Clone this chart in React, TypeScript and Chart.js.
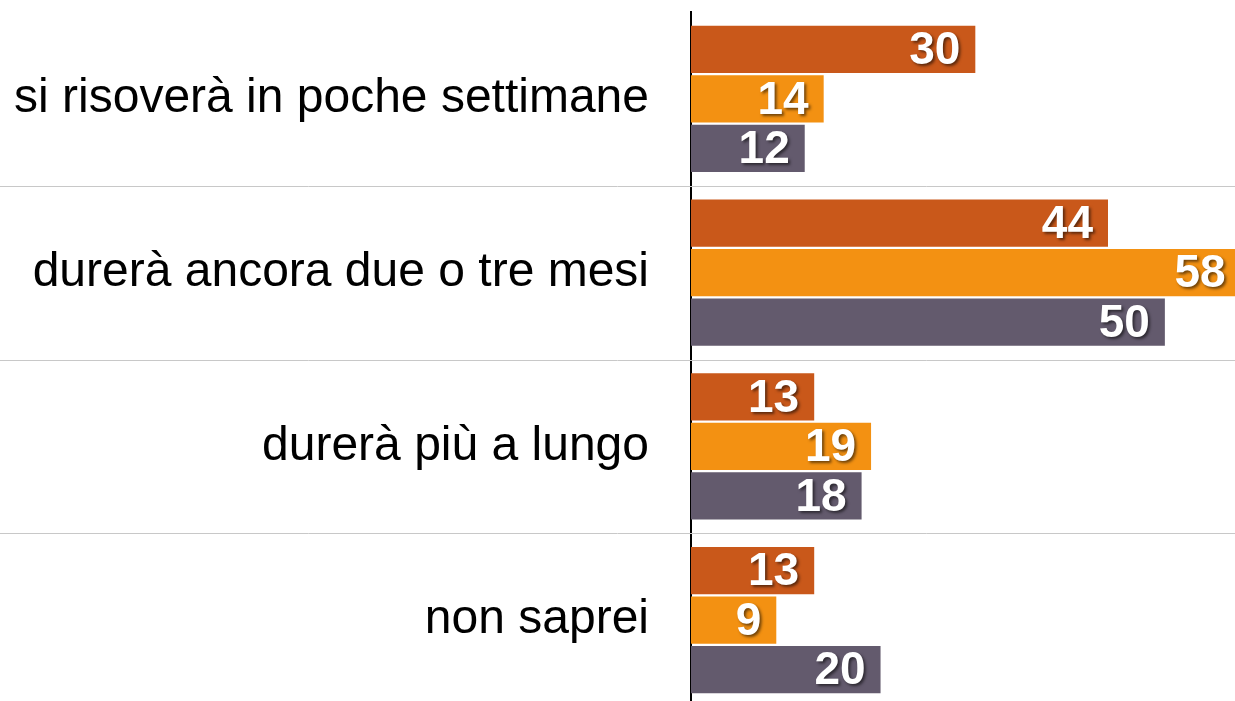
import React, { useEffect, useRef } from "react";
import { Chart, registerables } from "chart.js";

Chart.register(...registerables);

const categories = [
  "si risoverà in poche settimane",
  "durerà ancora due o tre mesi",
  "durerà più a lungo",
  "non saprei",
];
const series1 = [30, 44, 13, 13];
const series2 = [14, 58, 19, 9];
const series3 = [12, 50, 18, 20];
const seriesNames = ["Serie 1", "Serie 2", "Serie 3"];
const seriesColors = ["#C9581A", "#F39112", "#635A6D"];

const FONT = "'Liberation Sans', Arial, sans-serif";

const separatorPlugin = {
  id: "separators",
  beforeDatasetsDraw(chart: any) {
    const { ctx } = chart;
    const y = chart.scales.y;
    ctx.save();
    ctx.strokeStyle = "#C8C8C8";
    ctx.lineWidth = 1;
    for (let i = 1; i < categories.length; i++) {
      const py = Math.round((y.getPixelForTick(i - 1) + y.getPixelForTick(i)) / 2) + 0.5;
      ctx.beginPath();
      ctx.moveTo(0, py);
      ctx.lineTo(chart.width, py);
      ctx.stroke();
    }
    ctx.restore();
  },
};

const valueLabelPlugin = {
  id: "valueLabels",
  afterDatasetsDraw(chart: any) {
    const { ctx } = chart;
    ctx.save();
    ctx.font = `bold 46px ${FONT}`;
    ctx.fillStyle = "#FFFFFF";
    ctx.textAlign = "right";
    ctx.textBaseline = "middle";
    ctx.shadowColor = "rgba(0,0,0,0.55)";
    ctx.shadowOffsetX = 2;
    ctx.shadowOffsetY = 2;
    ctx.shadowBlur = 3;
    chart.data.datasets.forEach((ds: any, di: number) => {
      const meta = chart.getDatasetMeta(di);
      meta.data.forEach((bar: any, i: number) => {
        ctx.fillText(String(ds.data[i]), bar.x - 15, bar.y + 2);
      });
    });
    ctx.restore();
  },
};

export default function App() {
  const ref = useRef<HTMLCanvasElement>(null);
  useEffect(() => {
    const prevOverflow = document.body.style.overflow;
    document.body.style.overflow = "hidden";
    const chart = new Chart(ref.current!, {
      type: "bar",
      data: {
        labels: categories,
        datasets: [series1, series2, series3].map((d, i) => ({
          label: seriesNames[i],
          data: d,
          backgroundColor: seriesColors[i],
          borderWidth: 0,
          categoryPercentage: 0.855,
          barPercentage: 0.95,
        })),
      },
      options: {
        indexAxis: "y",
        responsive: false,
        animation: false,
        layout: { padding: { top: 12, bottom: 13, left: 0, right: 0 } },
        plugins: {
          legend: { display: false },
          tooltip: { enabled: false },
        },
        scales: {
          x: {
            display: false,
            min: 0,
            max: 57.4,
          },
          y: {
            grid: { display: false, drawTicks: false },
            border: { display: true, color: "#000000", width: 2 },
            ticks: {
              padding: 42,
              color: "#000000",
              font: { family: FONT, size: 48 },
            },
            afterFit: (scale: any) => {
              scale.width = 691;
              scale.paddingTop = 0;
              scale.paddingBottom = 0;
            },
          },
        },
      },
      plugins: [separatorPlugin, valueLabelPlugin],
    });
    return () => {
      chart.destroy();
      document.body.style.overflow = prevOverflow;
    };
  }, []);
  return (
    <div style={{ position: "fixed", left: 0, top: 0, width: 1235, height: 701, overflow: "hidden", background: "#fff" }}>
      <canvas ref={ref} width={1235} height={720} style={{ display: "block" }} />
    </div>
  );
}
